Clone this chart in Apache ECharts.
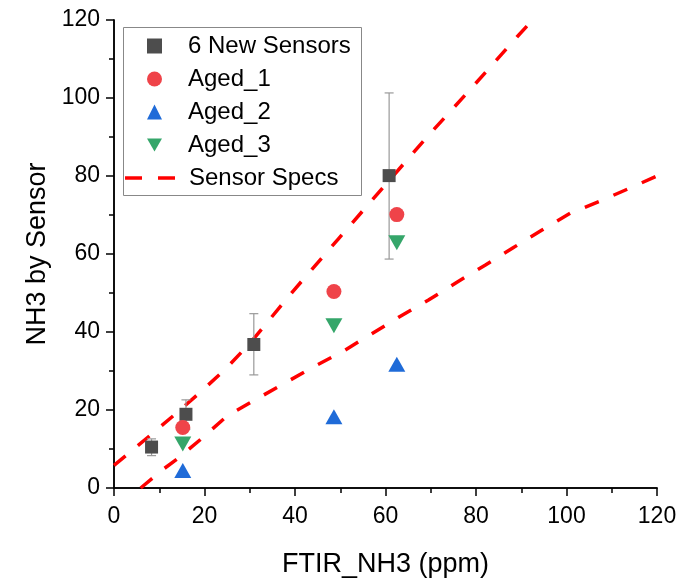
<!DOCTYPE html>
<html>
<head>
<meta charset="utf-8">
<script src="https://cdn.jsdelivr.net/npm/echarts@6/dist/echarts.min.js"></script>
<style>
  html, body { margin: 0; padding: 0; background: #fff; }
  #chart { width: 682px; height: 583px; }
</style>
</head>
<body>
<div id="chart"></div>
<script>
// data
const newX = [8.3, 15.9, 30.9, 60.8];
const newY = [10.5, 18.9, 36.8, 80.1];
const newLow = [8.3, 15.1, 29.0, 58.7];
const newHigh = [12.6, 22.6, 44.7, 101.3];

const agedX = [15.2, 48.6, 62.5];
const aged1Y = [15.5, 50.4, 70.1];
const aged2Y = [4.5, 18.3, 31.7];
const aged3Y = [11.3, 41.6, 62.9];

// sensor spec band (upper / lower dashed curves)
const specUpX = [0, 8.2, 14, 19.5, 24.9, 30.1, 39.6, 49.6, 59.2, 69.1, 79.2, 89.1, 92.5];
const specUpY = [5.8, 13.7, 19.4, 25, 30.8, 37.2, 50.5, 63.9, 76.7, 89.9, 102.8, 115.7, 120];
const specLoX = [5.9, 11, 14, 19.5, 25, 31.5, 37.9, 44, 50.7, 56.9, 63.2, 69.5, 75.7, 82, 88.2, 94.5, 100.9, 107.5, 114.4, 120];
const specLoY = [0, 4.9, 7.5, 12.8, 18.5, 22.8, 27, 31, 35.1, 39.5, 44, 48.2, 52.7, 57.1, 61.6, 66.1, 70.5, 73.6, 77.1, 80];

const names = ["6 New Sensors", "Aged_1", "Aged_2", "Aged_3", "Sensor Specs"];
const xTicks = ["0", "20", "40", "60", "80", "100", "120"];

const font = "'Liberation Sans', Arial, sans-serif";
const zip = (xs, ys) => xs.map((x, i) => [x, ys[i]]);

var myChart = echarts.init(document.getElementById("chart"));

const specLine = {
  type: "line",
  name: names[4],
  symbol: "none",
  z: 1,
  clip: true,
  lineStyle: { color: "#ff0000", width: 3.5, type: [15, 16] },
  itemStyle: { color: "#ff0000" },
};

// axis helpers (bottom/left get labels, top/right mirror the box)
function mainAxis (extra) {
  return Object.assign({
    type: "value",
    min: 0, max: 120, interval: 20,
    nameLocation: "middle",
    nameTextStyle: { fontSize: 27, color: "#000", fontFamily: font },
    axisLine: { lineStyle: { color: "#000", width: 1.5 } },
    axisTick: { length: 8, lineStyle: { color: "#000", width: 1.5 } },
    minorTick: { show: true, splitNumber: 2, length: 5, lineStyle: { color: "#000", width: 1.5 } },
    splitLine: { show: false },
  }, extra);
}
function mirrorAxis (pos) {
  return {
    type: "value",
    position: pos,
    min: 0, max: 120, interval: 20,
    axisLine: { lineStyle: { color: "#000", width: 1.5 } },
    axisTick: { inside: true, length: 8, lineStyle: { color: "#000", width: 1.5 } },
    minorTick: { show: true, splitNumber: 2, length: 4, lineStyle: { color: "#000", width: 1.5 } },
    axisLabel: { show: false },
    splitLine: { show: false },
  };
}

let option = {
  animation: false,
  textStyle: { fontFamily: font },
  grid: { left: 114, right: 25, top: 20, bottom: 92, containLabel: false },
  graphic: [
    {
      // legend frame
      type: "rect",
      left: 123, top: 27, z: 3,
      shape: { width: 238, height: 168 },
      style: { fill: "#fff", stroke: "#888", lineWidth: 1 },
    },
  ],
  legend: [
    {
      data: [
        { name: names[0], icon: "rect" },
        { name: names[1], icon: "circle" },
        { name: names[2], icon: "triangle" },
        { name: names[3], icon: "path://M0 0L17 0L8.5 15Z" },
      ],
      orient: "vertical",
      left: 147, top: 34,
      padding: 0,
      itemWidth: 15, itemHeight: 15, itemGap: 9,
      z: 5,
      textStyle: { fontSize: 24, color: "#000", fontFamily: font, padding: [0, 0, 0, 21] },
    },
    {
      data: [{ name: names[4], icon: "path://M0 0h17v3.5h-17zM33 0h17v3.5h-17z" }],
      orient: "vertical",
      left: 125, top: 166,
      padding: 0,
      itemWidth: 50, itemHeight: 3.5,
      z: 5,
      textStyle: { fontSize: 24, color: "#000", fontFamily: font, padding: [0, 0, 0, 9] },
    },
  ],
  xAxis: [
    mainAxis({
      name: "FTIR_NH3 (ppm)",
      nameGap: 63,
      axisLabel: { fontSize: 23, color: "#000", margin: 17, formatter: (v) => xTicks[v / 20] },
    }),
    mirrorAxis("top"),
  ],
  yAxis: [
    mainAxis({
      name: "NH3 by Sensor",
      nameGap: 62,
      axisLabel: { fontSize: 23, color: "#000", margin: 14 },
    }),
    mirrorAxis("right"),
  ],
  series: [
    Object.assign({}, specLine, { data: zip(specUpX, specUpY) }),
    Object.assign({}, specLine, { data: zip(specLoX, specLoY) }),
    {
      // error bars of the new sensors
      type: "custom",
      name: "errors",
      z: 2,
      data: newX.map((x, i) => [x, newLow[i], newHigh[i]]),
      renderItem: function (params, api) {
        const lo = api.coord([api.value(0), api.value(1)]);
        const hi = api.coord([api.value(0), api.value(2)]);
        const cap = 4.5;
        const style = { stroke: "#999", lineWidth: 1.2 };
        return {
          type: "group",
          children: [
            { type: "line", shape: { x1: lo[0], y1: lo[1], x2: hi[0], y2: hi[1] }, style: style },
            { type: "line", shape: { x1: lo[0] - cap, y1: lo[1], x2: lo[0] + cap, y2: lo[1] }, style: style },
            { type: "line", shape: { x1: hi[0] - cap, y1: hi[1], x2: hi[0] + cap, y2: hi[1] }, style: style },
          ],
        };
      },
    },
    {
      type: "scatter",
      name: names[0],
      symbol: "rect",
      symbolSize: 13,
      z: 3,
      itemStyle: { color: "#4d4d4d", opacity: 1 },
      data: zip(newX, newY),
    },
    {
      type: "scatter",
      name: names[1],
      symbol: "circle",
      symbolSize: 15,
      z: 3,
      itemStyle: { color: "#ef4349", opacity: 1 },
      data: zip(agedX, aged1Y),
    },
    {
      type: "scatter",
      name: names[2],
      symbol: "triangle",
      symbolSize: [17, 15],
      z: 3,
      itemStyle: { color: "#1f6bd8", opacity: 1 },
      data: zip(agedX, aged2Y),
    },
    {
      type: "scatter",
      name: names[3],
      symbol: "triangle",
      symbolRotate: 180,
      symbolSize: [17, 15],
      z: 3,
      itemStyle: { color: "#35a66a", opacity: 1 },
      data: zip(agedX, aged3Y),
    },
  ],
};
myChart.setOption(option);
</script>
</body>
</html>
